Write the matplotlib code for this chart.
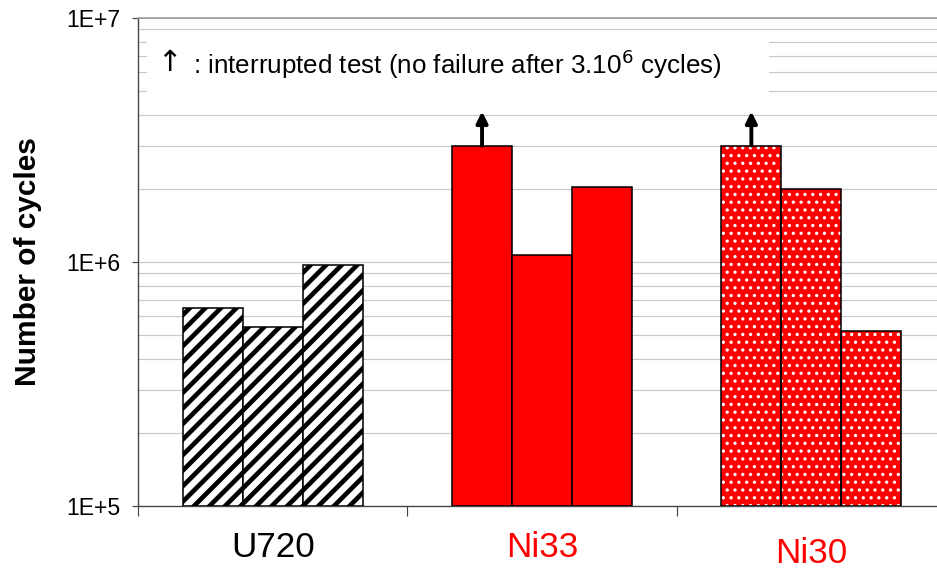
import numpy as np
import matplotlib
matplotlib.use('Agg')
import matplotlib.pyplot as plt
from matplotlib.patches import Rectangle
from matplotlib.ticker import LogLocator, FixedLocator, NullFormatter

# data
materials = ['U720', 'Ni33', 'Ni30']
u720_cycles = [6.5e5, 5.4e5, 9.7e5]
ni33_cycles = [3.0e6, 1.07e6, 2.03e6]
ni30_cycles = [3.0e6, 2.0e6, 5.2e5]
interrupted = [[False, False, False], [True, False, False], [True, False, False]]
ytick_labels = ['1E+5', '1E+6', '1E+7']

DPI = 140
BASE = 1e5
plt.rcParams['font.family'] = ['Liberation Sans', 'DejaVu Sans']
plt.rcParams['hatch.linewidth'] = 2.4

fig = plt.figure(figsize=(937 / DPI, 569 / DPI), dpi=DPI)
ax = fig.add_axes([138 / 937, 63 / 569, 808 / 937, 488 / 569])

bar_w = 60 / 269.5
offsets = np.array([-1, 0, 1]) * bar_w
centers = np.arange(len(materials)) + 0.5


def set_hatch_lw(bars, lw):
    # per-patch hatch width where the installed matplotlib supports it
    for b in bars:
        if hasattr(b, 'set_hatch_linewidth'):
            b.set_hatch_linewidth(lw)


# U720: black diagonal stripes on white
u = ax.bar(centers[0] + offsets, np.array(u720_cycles) - BASE, width=bar_w, bottom=BASE,
           facecolor='white', edgecolor='black', hatch='///', linewidth=0.8, zorder=3)
set_hatch_lw(u, 2.4)

# Ni33: plain red
ax.bar(centers[1] + offsets, np.array(ni33_cycles) - BASE, width=bar_w, bottom=BASE,
       facecolor='#ff0000', edgecolor='black', linewidth=0.8, zorder=3)

# Ni30: red with small white dots
ax.bar(centers[2] + offsets, np.array(ni30_cycles) - BASE, width=bar_w, bottom=BASE,
       facecolor='#ff0000', edgecolor='black', linewidth=0, zorder=3)
dots = ax.bar(centers[2] + offsets, np.array(ni30_cycles) - BASE, width=bar_w, bottom=BASE,
              facecolor='none', edgecolor='white', hatch='...', linewidth=0, zorder=3.1)
set_hatch_lw(dots, 0.9)
ax.bar(centers[2] + offsets, np.array(ni30_cycles) - BASE, width=bar_w, bottom=BASE,
       facecolor='none', edgecolor='black', linewidth=0.8, zorder=3.2)

# arrows for interrupted tests
all_vals = [u720_cycles, ni33_cycles, ni30_cycles]
for i, vals in enumerate(all_vals):
    for j, v in enumerate(vals):
        if interrupted[i][j]:
            x = centers[i] + offsets[j]
            ax.annotate('', xy=(x, v * 1.38), xytext=(x, v),
                        arrowprops=dict(arrowstyle='-|>', lw=2.0, color='black',
                                        mutation_scale=12, shrinkA=0, shrinkB=0),
                        zorder=4)

ax.set_yscale('log')
ax.set_ylim(1e5, 1e7)
ax.set_xlim(0, 3)
ax.yaxis.set_major_locator(FixedLocator([1e5, 1e6, 1e7]))
ax.set_yticklabels(ytick_labels)
ax.yaxis.set_minor_locator(LogLocator(base=10, subs=np.arange(2, 10)))
ax.yaxis.set_minor_formatter(NullFormatter())
ax.grid(True, which='both', axis='y', color='#c8c8c8', linewidth=0.6, zorder=0)
ax.set_axisbelow(True)

ax.set_xticks([0, 1, 2, 3])
ax.set_xticklabels([])
ax.tick_params(axis='x', length=5, width=0.6, color='#444444')
ax.tick_params(axis='y', which='major', length=3, width=0.6, pad=6,
               labelsize=11.8, color='#444444')
ax.tick_params(axis='y', which='minor', length=0)

for s in ['left', 'bottom']:
    ax.spines[s].set_color('#444444')
    ax.spines[s].set_linewidth(0.7)
ax.spines['top'].set_color('#999999')
ax.spines['top'].set_linewidth(0.8)
ax.spines['right'].set_visible(False)

# category labels (Ni30 sits a little lower in the reference)
label_colors = ['black', '#ff0000', '#ff0000']
label_y = [-0.086, -0.086, -0.097]
for c, name, col, yy in zip(centers, materials, label_colors, label_y):
    ax.text(c, yy, name, transform=ax.get_xaxis_transform(), ha='center', va='center',
            fontsize=18, color=col)

fig.text(28 / 937, 1 - 262 / 569, 'Number of cycles', rotation=90, ha='center', va='center',
         fontsize=15.4, fontweight='bold')

# note box
ax.add_patch(Rectangle((0.011, 0.832), 0.77, 0.137, transform=ax.transAxes,
                       facecolor='white', edgecolor='none', zorder=2))
ax.text(0.024, 0.907, '\u2191', transform=ax.transAxes, ha='left', va='center',
        fontsize=15, family='DejaVu Sans', zorder=5)
ax.text(0.068, 0.905, ': interrupted test (no failure after 3.10$^{6}$ cycles)',
        transform=ax.transAxes, ha='left', va='center', fontsize=13.4, zorder=5)

fig.savefig('out.png', dpi=DPI)
